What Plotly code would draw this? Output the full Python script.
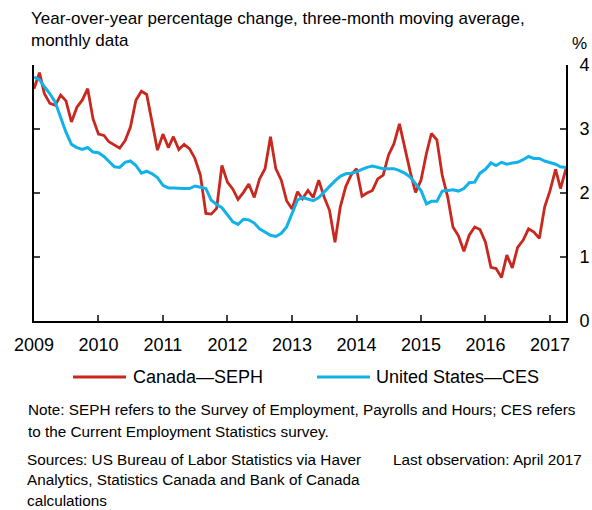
import pandas as pd
import plotly.graph_objs as go

# Monthly, Jan 2009 - Apr 2017, y/y % change, 3-month moving average
months = pd.date_range(start="2009-01-01", periods=100, freq="MS")

canada_seph = [
    3.63, 3.88, 3.55, 3.40, 3.37, 3.53, 3.44, 3.11, 3.34, 3.45, 3.63, 3.16,
    2.92, 2.90, 2.80, 2.75, 2.70, 2.82, 3.03, 3.45, 3.59, 3.54, 3.11, 2.67,
    2.92, 2.71, 2.88, 2.68, 2.76, 2.69, 2.54, 2.28, 1.68, 1.67, 1.76, 2.43,
    2.17, 2.06, 1.90, 2.01, 2.14, 1.93, 2.22, 2.38, 2.88, 2.38, 2.20, 1.88,
    1.75, 2.02, 1.91, 2.04, 1.93, 2.20, 1.94, 1.73, 1.23, 1.78, 2.10, 2.28,
    2.38, 1.95, 2.00, 2.04, 2.22, 2.28, 2.59, 2.77, 3.08, 2.69, 2.33, 2.01,
    2.20, 2.62, 2.93, 2.83, 2.28, 1.94, 1.47, 1.33, 1.09, 1.34, 1.47, 1.43,
    1.23, 0.84, 0.82, 0.68, 1.03, 0.83, 1.15, 1.26, 1.44, 1.39, 1.29, 1.78,
    2.04, 2.37, 2.07, 2.38,
]

us_ces = [
    3.81, 3.77, 3.66, 3.55, 3.42, 3.19, 2.95, 2.76, 2.71, 2.68, 2.71, 2.64,
    2.63, 2.57, 2.50, 2.41, 2.40, 2.48, 2.50, 2.43, 2.31, 2.34, 2.30, 2.24,
    2.12, 2.08, 2.08, 2.07, 2.07, 2.07, 2.11, 2.09, 2.07, 1.89, 1.82, 1.77,
    1.65, 1.55, 1.51, 1.59, 1.58, 1.53, 1.44, 1.39, 1.34, 1.32, 1.37, 1.47,
    1.68, 1.89, 1.93, 1.90, 1.88, 1.93, 2.02, 2.10, 2.19, 2.26, 2.30, 2.31,
    2.33, 2.37, 2.40, 2.42, 2.40, 2.38, 2.38, 2.38, 2.35, 2.31, 2.25, 2.14,
    2.04, 1.83, 1.87, 1.87, 2.03, 2.04, 2.05, 2.03, 2.07, 2.16, 2.17, 2.31,
    2.37, 2.47, 2.43, 2.48, 2.45, 2.47, 2.48, 2.52, 2.57, 2.54, 2.54, 2.50,
    2.47, 2.45, 2.41, 2.40,
]

note_lines = [
    "Note: SEPH refers to the Survey of Employment, Payrolls and Hours; CES refers",
    "to the Current Employment Statistics survey.",
]
source_lines = [
    "Sources: US Bureau of Labor Statistics via Haver",
    "Analytics, Statistics Canada and Bank of Canada",
    "calculations",
]

RED = "#c8281e"
BLUE = "#12b2e8"
SANS = "Liberation Sans, Arial, sans-serif"

W, H = 592, 510
L, R, T, B = 34, 26, 65, 189


def px_x(x):
    return (x - L) / (W - L - R)


def px_y(y):
    return (H - B - y) / (H - T - B)


fig = go.Figure()
fig.add_trace(go.Scatter(x=months, y=canada_seph, mode="lines", name="Canada—SEPH",
                         line=dict(color=RED, width=2.8)))
fig.add_trace(go.Scatter(x=months, y=us_ces, mode="lines", name="United States—CES",
                         line=dict(color=BLUE, width=3)))

fig.update_layout(
    width=W,
    height=H,
    margin=dict(l=L, r=R, t=T, b=B, autoexpand=False),
    plot_bgcolor="white",
    paper_bgcolor="white",
    showlegend=False,
    font=dict(family=SANS, size=18, color="black"),
    xaxis=dict(
        type="date",
        range=["2009-01-01", "2017-04-01"],
        dtick="M12",
        tick0="2009-01-01",
        tickformat="%Y",
        ticks="inside",
        ticklen=6,
        tickwidth=2,
        showline=True,
        linewidth=2,
        linecolor="black",
        showgrid=False,
        zeroline=False,
        ticklabelstandoff=6,
        automargin=False,
    ),
    yaxis=dict(
        range=[0, 4],
        dtick=1,
        side="right",
        ticks="inside",
        ticklen=6,
        tickwidth=2,
        showline=True,
        linewidth=2,
        linecolor="black",
        mirror="ticks",
        showgrid=False,
        zeroline=False,
        ticklabelstandoff=8,
        automargin=False,
    ),
)

annotations = [
    dict(text="Year-over-year percentage change, three-month moving average,<br>monthly data",
         x=px_x(29), y=px_y(7), xanchor="left", yanchor="top", align="left",
         font=dict(family=SANS, size=17)),
    dict(text="%", x=px_x(579), y=px_y(43), xanchor="center", yanchor="middle",
         font=dict(family=SANS, size=17)),
    dict(text="Canada—SEPH", x=px_x(131), y=px_y(377), xanchor="left", yanchor="middle",
         font=dict(family=SANS, size=18)),
    dict(text="United States—CES", x=px_x(374), y=px_y(377), xanchor="left", yanchor="middle",
         font=dict(family=SANS, size=18)),
    dict(text="Last observation: April 2017", x=px_x(391), y=px_y(459),
         xanchor="left", yanchor="middle", font=dict(family=SANS, size=15.3)),
]
for i, line in enumerate(note_lines):
    annotations.append(dict(text=line, x=px_x(26), y=px_y(409 + 22 * i),
                            xanchor="left", yanchor="middle",
                            font=dict(family=SANS, size=15.3)))
for i, line in enumerate(source_lines):
    annotations.append(dict(text=line, x=px_x(25), y=px_y(459 + 20.5 * i),
                            xanchor="left", yanchor="middle",
                            font=dict(family=SANS, size=15.3)))
for a in annotations:
    a.update(xref="paper", yref="paper", showarrow=False)
fig.update_layout(annotations=annotations)

# legend keys
for x0, x1, c in [(73, 126, RED), (317, 370, BLUE)]:
    fig.add_shape(type="line", xref="paper", yref="paper",
                  x0=px_x(x0), x1=px_x(x1), y0=px_y(377), y1=px_y(377),
                  line=dict(color=c, width=3))

fig.write_html("out.html", config={"displayModeBar": False},
               post_script="document.body.style.margin='0';")
